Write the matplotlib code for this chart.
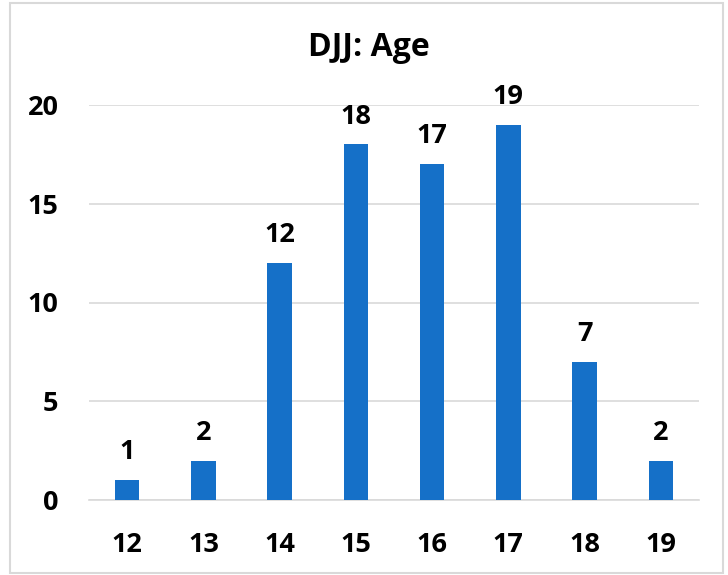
import matplotlib.pyplot as plt
from matplotlib.patches import Rectangle

# data
ages = ["12", "13", "14", "15", "16", "17", "18", "19"]
counts = [1, 2, 12, 18, 17, 19, 7, 2]

plt.rcParams['font.family'] = ['Open Sans', 'DejaVu Sans']
plt.rcParams['font.weight'] = 'bold'

fig = plt.figure(figsize=(7.28, 5.75), dpi=100)
ax = fig.add_axes([89 / 728, 1 - 500 / 575, 610 / 728, 395 / 575])

# outer border like an excel chart area
fig.patches.append(Rectangle((10 / 728, 2 / 575), 713 / 728, 570 / 575,
                             transform=fig.transFigure, fill=False,
                             edgecolor="#D9D9D9", linewidth=1.5))

x = range(len(ages))
bars = ax.bar(x, counts, width=0.32, color="#1570C8", zorder=3)
for i in x:
    ax.text(i, counts[i] + 0.75, str(counts[i]), ha="center", va="bottom",
            fontsize=19.5, fontweight="bold")

ax.set_xlim(-0.5, len(ages) - 0.5)
ax.set_ylim(0, 20)
ax.set_yticks([0, 5, 10, 15, 20])
ax.set_xticks(list(x))
ax.set_xticklabels(ages)
ax.tick_params(axis="both", length=0, labelsize=19.5)
ax.tick_params(axis="x", pad=23)
ax.tick_params(axis="y", pad=22)
ax.grid(axis="y", color="#D9D9D9", linewidth=1.2, zorder=0)
for s in ["top", "right", "left"]:
    ax.spines[s].set_visible(False)
ax.spines["bottom"].set_color("#D9D9D9")
ax.spines["bottom"].set_linewidth(1.2)

fig.text(369 / 728, 1 - 47 / 575, "DJJ: Age", ha="center", va="center",
         fontsize=23, fontweight="bold")

fig.savefig("out.png", dpi=100)
